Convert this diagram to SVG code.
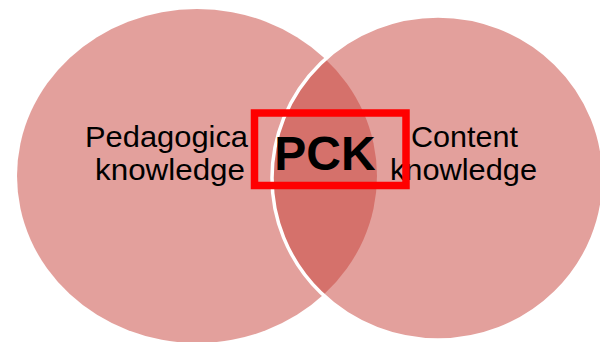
<svg xmlns="http://www.w3.org/2000/svg" width="600" height="342" viewBox="0 0 600 342">
  <style>
    .set { fill: #C8423A; fill-opacity: 0.5; }
    .label { font-family: "Liberation Sans", Arial, sans-serif; font-size: 30px; fill: #000000; }
    .pck { font-family: "Liberation Sans", Arial, sans-serif; font-size: 48px; font-weight: bold; fill: #000000; }
  </style>
  <rect width="600" height="342" fill="#FFFFFF"/>
  <g id="pedagogical">
    <ellipse class="set" cx="197" cy="176" rx="180" ry="167"/>
    <text class="label" x="85" y="147" textLength="163" lengthAdjust="spacingAndGlyphs">Pedagogica</text>
    <text class="label" x="95" y="180" textLength="150" lengthAdjust="spacingAndGlyphs">knowledge</text>
  </g>
  <g id="content">
    <ellipse class="set" cx="438" cy="178" rx="166" ry="162" stroke="#FFFFFF" stroke-width="3.5"/>
    <text class="label" x="411" y="147" textLength="107" lengthAdjust="spacingAndGlyphs">Content</text>
    <text class="label" x="390" y="180" textLength="147" lengthAdjust="spacingAndGlyphs">knowledge</text>
  </g>
  <g id="pck">
    <rect x="254.5" y="113" width="151.5" height="72.5" fill="none" stroke="#FF0000" stroke-width="7.5"/>
    <text class="pck" x="325" y="170" text-anchor="middle">PCK</text>
  </g>
</svg>
